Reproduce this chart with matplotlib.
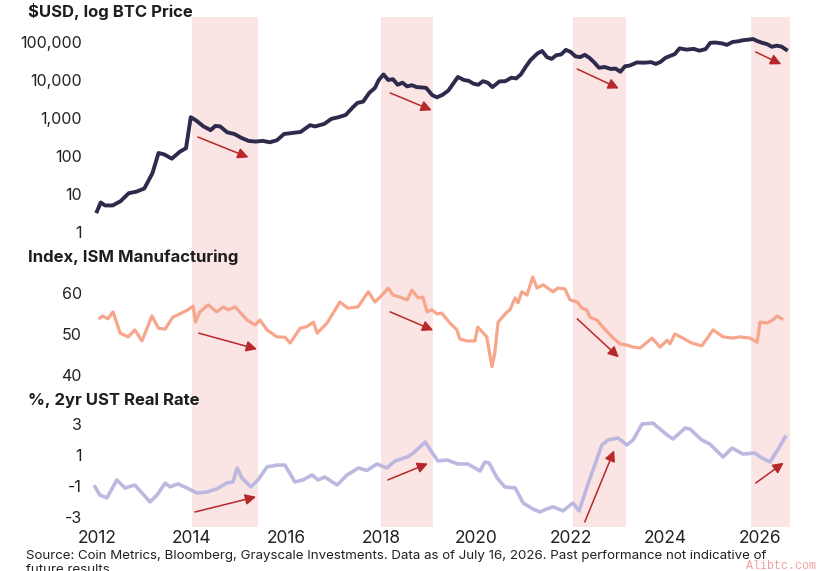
import matplotlib
matplotlib.use("Agg")
import matplotlib.pyplot as plt
from matplotlib.ticker import FixedLocator, FuncFormatter

plt.rcParams['font.family'] = ['Inter', 'DejaVu Sans']
plt.rcParams['axes.unicode_minus'] = False

# ---- data ----
btc_t = [2012.0, 2012.08, 2012.17, 2012.33, 2012.5, 2012.67, 2012.83, 2013.0, 2013.17, 2013.3,
         2013.42, 2013.58, 2013.75, 2013.88, 2013.98, 2014.1, 2014.25, 2014.4, 2014.5, 2014.6,
         2014.75, 2014.9, 2015.05, 2015.2, 2015.35, 2015.5, 2015.65, 2015.8, 2015.95, 2016.1,
         2016.3, 2016.5, 2016.6, 2016.8, 2016.95, 2017.1, 2017.25, 2017.4, 2017.5, 2017.62,
         2017.75, 2017.87, 2017.95, 2018.05, 2018.15, 2018.25, 2018.35, 2018.45, 2018.55, 2018.65,
         2018.75, 2018.85, 2018.95, 2019.08, 2019.18, 2019.3, 2019.42, 2019.55, 2019.62, 2019.75,
         2019.85, 2019.95, 2020.05, 2020.15, 2020.25, 2020.35, 2020.5, 2020.62, 2020.75, 2020.85,
         2020.95, 2021.05, 2021.15, 2021.3, 2021.4, 2021.5, 2021.6, 2021.7, 2021.8, 2021.9,
         2022.0, 2022.1, 2022.2, 2022.3, 2022.4, 2022.5, 2022.6, 2022.72, 2022.85, 2022.95,
         2023.05, 2023.15, 2023.25, 2023.4, 2023.55, 2023.7, 2023.8, 2023.9, 2024.0, 2024.1,
         2024.2, 2024.3, 2024.45, 2024.6, 2024.72, 2024.85, 2024.95, 2025.05, 2025.2, 2025.3,
         2025.42, 2025.55, 2025.65, 2025.75, 2025.85, 2025.95, 2026.05, 2026.15, 2026.25, 2026.35,
         2026.45, 2026.55]
btc_usd = [3.5, 6.0, 5.0, 5.0, 6.5, 10.5, 11.5, 14, 35, 120,
           110, 85, 130, 160, 1050, 850, 600, 480, 620, 600,
           420, 380, 300, 250, 240, 250, 230, 260, 380, 400,
           430, 650, 600, 700, 950, 1050, 1200, 1900, 2500, 2700,
           4600, 6200, 10000, 14000, 10000, 10500, 7500, 8500, 6800, 7300,
           6500, 6400, 6200, 4000, 3500, 4100, 5300, 9000, 12000, 10000,
           9500, 8000, 7500, 9300, 8500, 6500, 9200, 9300, 11500, 11000,
           14000, 22000, 33000, 50000, 58000, 40000, 36000, 45000, 47000, 62000,
           55000, 42000, 40000, 46000, 38000, 29000, 21000, 22000, 19500, 20000,
           16500, 23000, 24000, 29000, 28500, 29500, 26500, 30000, 38000, 43000,
           48000, 68000, 63000, 66000, 59000, 65000, 95000, 97000, 92000, 84000,
           100000, 105000, 112000, 115000, 120000, 105000, 95000, 88000, 75000, 80000,
           76000, 63000]

ism_t = [2012.06, 2012.12, 2012.23, 2012.34, 2012.49, 2012.66, 2012.8, 2012.95, 2013.16, 2013.3,
         2013.44, 2013.6, 2013.75, 2013.92, 2014.03, 2014.08, 2014.17, 2014.35, 2014.53, 2014.67,
         2014.77, 2014.92, 2015.17, 2015.34, 2015.44, 2015.59, 2015.8, 2015.97, 2016.08, 2016.29,
         2016.43, 2016.57, 2016.65, 2016.86, 2017.13, 2017.3, 2017.51, 2017.73, 2017.87, 2018.02,
         2018.15, 2018.25, 2018.4, 2018.55, 2018.65, 2018.78, 2018.88, 2018.97, 2019.07, 2019.18,
         2019.28, 2019.45, 2019.6, 2019.66, 2019.81, 2019.98, 2020.04, 2020.23, 2020.34, 2020.4,
         2020.47, 2020.66, 2020.72, 2020.83, 2020.89, 2020.97, 2021.08, 2021.2, 2021.29, 2021.42,
         2021.63, 2021.73, 2021.88, 2021.99, 2022.14, 2022.24, 2022.34, 2022.41, 2022.56, 2022.68,
         2022.9, 2023.04, 2023.19, 2023.32, 2023.47, 2023.72, 2023.89, 2024.04, 2024.1, 2024.2,
         2024.37, 2024.56, 2024.77, 2025.01, 2025.22, 2025.43, 2025.58, 2025.79, 2025.94, 2026.0,
         2026.15, 2026.27, 2026.36, 2026.46]
ism_idx = [53.9, 54.4, 53.7, 55.4, 50.2, 49.3, 51.0, 48.3, 54.4, 51.4,
           51.2, 54.1, 54.9, 55.9, 56.8, 52.9, 55.4, 57.1, 55.4, 56.6,
           55.9, 56.6, 53.4, 52.2, 53.4, 51.0, 49.3, 49.2, 47.8, 51.4,
           51.8, 52.9, 50.2, 52.7, 57.8, 56.3, 56.6, 60.3, 57.8, 59.5,
           61.2, 59.5, 59.0, 58.3, 60.7, 58.8, 59.0, 55.4, 55.9, 54.9,
           55.1, 52.7, 51.0, 48.8, 48.3, 48.3, 51.7, 49.3, 42.0, 45.4,
           52.9, 55.4, 55.9, 58.8, 57.6, 60.3, 59.5, 63.9, 61.2, 62.0,
           60.3, 61.2, 61.0, 58.3, 57.8, 56.3, 55.9, 54.1, 53.4, 51.7,
           49.0, 47.6, 47.3, 46.8, 46.6, 49.0, 46.8, 48.5, 47.6, 50.0,
           49.0, 47.8, 47.1, 51.0, 49.3, 49.0, 49.3, 49.0, 48.0, 52.9,
           52.7, 53.4, 54.4, 53.7]

rate_t = [2011.96, 2012.06, 2012.21, 2012.42, 2012.59, 2012.8, 2013.12, 2013.27, 2013.44, 2013.54,
          2013.71, 2013.9, 2014.11, 2014.32, 2014.53, 2014.74, 2014.87, 2014.96, 2015.06, 2015.25,
          2015.4, 2015.59, 2015.8, 2015.97, 2016.18, 2016.35, 2016.54, 2016.67, 2016.81, 2017.07,
          2017.28, 2017.52, 2017.7, 2017.91, 2018.12, 2018.29, 2018.55, 2018.68, 2018.93, 2019.07,
          2019.2, 2019.39, 2019.62, 2019.83, 2020.09, 2020.19, 2020.28, 2020.45, 2020.61, 2020.83,
          2021.0, 2021.2, 2021.35, 2021.5, 2021.63, 2021.84, 2022.05, 2022.18, 2022.34, 2022.51,
          2022.66, 2022.79, 2023.0, 2023.19, 2023.32, 2023.51, 2023.74, 2024.04, 2024.16, 2024.42,
          2024.52, 2024.77, 2024.94, 2025.22, 2025.41, 2025.64, 2025.89, 2026.04, 2026.21, 2026.36,
          2026.53]
rate_pct = [-1.06, -1.58, -1.77, -0.61, -1.13, -0.94, -2.03, -1.58, -0.81, -1.06,
            -0.87, -1.13, -1.45, -1.39, -1.19, -0.81, -0.74, 0.16, -0.48, -1.06,
            -0.61, 0.23, 0.35, 0.35, -0.74, -0.61, -0.29, -0.61, -0.42, -0.94,
            -0.29, 0.16, 0.0, 0.42, 0.16, 0.61, 0.87, 1.13, 1.84, 1.19,
            0.61, 0.68, 0.42, 0.42, -0.03, 0.55, 0.48, -0.48, -1.06, -1.13,
            -2.1, -2.48, -2.68, -2.48, -2.35, -2.61, -2.1, -2.61, -1.13, 0.35,
            1.65, 1.97, 2.1, 1.65, 1.97, 3.0, 3.06, 2.29, 2.03, 2.74,
            2.68, 1.97, 1.71, 0.87, 1.45, 1.06, 1.13, 0.81, 0.55, 1.26,
            2.16]

# shaded periods (start, end)
bands = [(2014.0, 2015.4), (2018.0, 2019.1), (2022.05, 2023.17), (2025.8, 2026.63)]

# arrows: (x0, y0, x1, y1)
btc_arrows = [(2014.13, 316, 2015.2, 92), (2018.19, 4570, 2019.07, 1600),
              (2022.14, 19500, 2023.02, 6000), (2025.91, 54600, 2026.45, 26000)]
ism_arrows = [(2014.15, 50.2, 2015.38, 46.3), (2018.19, 55.4, 2019.1, 50.9),
              (2022.14, 53.7, 2023.02, 44.3)]
rate_arrows = [(2014.07, -2.68, 2015.36, -1.7), (2018.14, -0.61, 2018.99, 0.45),
               (2022.3, -3.32, 2022.92, 1.3), (2025.91, -0.81, 2026.5, 0.5)]

years = [2012, 2014, 2016, 2018, 2020, 2022, 2024, 2026]

W, H = 819, 571
XL = (2011.8, 2026.95)
LEFT, RIGHT = 87.5, 805


def rect(top, bottom):
    return [LEFT / W, 1 - bottom / H, (RIGHT - LEFT) / W, (bottom - top) / H]


def arrows(ax, lst):
    for x0, y0, x1, y1 in lst:
        ax.annotate("", xy=(x1, y1), xytext=(x0, y0),
                    arrowprops=dict(arrowstyle='-|>', color='#b8282a', lw=1.1,
                                    mutation_scale=16, shrinkA=0, shrinkB=0))


def style(ax):
    for s in ax.spines.values():
        s.set_visible(False)
    ax.patch.set_alpha(0)
    ax.set_xlim(XL)
    ax.tick_params(length=0, pad=4, labelsize=11.5, colors='#222222')
    ax.set_xticks([])


fig = plt.figure(figsize=(W / 100, H / 100), dpi=100)

bg = fig.add_axes(rect(17, 527))
bg.set_xlim(XL)
bg.set_ylim(0, 1)
for a, b in bands:
    bg.axvspan(a, b, color='#fae4e4', lw=0)
bg.axis('off')

ax1 = fig.add_axes(rect(17, 240))
style(ax1)
ax1.plot(btc_t, btc_usd, color='#2d2a4c', lw=2.8, solid_joinstyle='round')
ax1.set_yscale('log')
ax1.set_ylim(10 ** -0.21, 10 ** 5.658)
ax1.yaxis.set_major_locator(FixedLocator([1, 10, 100, 1000, 10000, 100000]))
ax1.yaxis.set_minor_locator(FixedLocator([]))
ax1.yaxis.set_major_formatter(FuncFormatter(lambda v, p: f"{v:,.0f}"))
arrows(ax1, btc_arrows)

ax2 = fig.add_axes(rect(262, 385))
style(ax2)
ax2.plot(ism_t, ism_idx, color='#f7a68c', lw=2.3, solid_joinstyle='round')
ax2.set_ylim(37.56, 67.56)
ax2.set_yticks([40, 50, 60])
arrows(ax2, ism_arrows)

ax3 = fig.add_axes(rect(405, 527))
style(ax3)
ax3.plot(rate_t, rate_pct, color='#bdb8e0', lw=2.6, solid_joinstyle='round')
ax3.set_ylim(-3.65, 4.23)
ax3.set_yticks([-3, -1, 1, 3])
ax3.set_xticks(years)
ax3.tick_params(axis='x', labelsize=12.5, pad=2)
arrows(ax3, rate_arrows)

for txt, y in [("$USD, log BTC Price", 12), ("Index, ISM Manufacturing", 257),
               ("%, 2yr UST Real Rate", 400)]:
    fig.text(28 / W, 1 - y / H, txt, fontsize=12, fontweight='bold',
             color='#1e1e1e', va='center', ha='left')

fig.text(26 / W, 1 - 550 / H,
         "Source: Coin Metrics, Bloomberg, Grayscale Investments. Data as of July 16, 2026. "
         "Past performance not indicative of\nfuture results.",
         fontsize=9.6, color='#222222', va='top', ha='left', linespacing=1.25)
fig.text(816 / W, 1 - 566 / H, "Alibtc.com", fontsize=8.5, color='#f2a0a0',
         family='Liberation Mono', ha='right', va='center')

fig.savefig("out.png", dpi=100)
